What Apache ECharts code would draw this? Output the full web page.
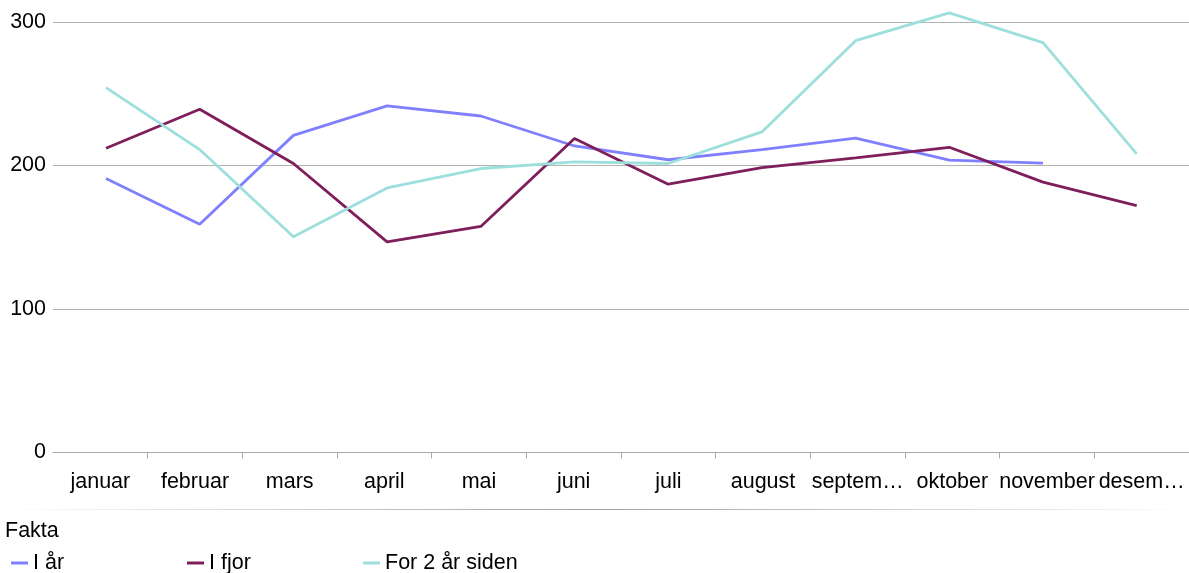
<!DOCTYPE html>
<html>
<head>
<meta charset="utf-8">
<script src="https://cdn.jsdelivr.net/npm/echarts@6/dist/echarts.min.js"></script>
<style>
html,body{margin:0;padding:0;background:#fff;}
#chart{width:1189px;height:573px;}
</style>
</head>
<body>
<div id="chart"></div>
<script>
const months = ['januar','februar','mars','april','mai','juni','juli','august','september','oktober','november','desember'];
const tickLabels = ['januar','februar','mars','april','mai','juni','juli','august','septem…','oktober','november','desem…'];
const seriesNames = ['I år','I fjor','For 2 år siden'];
const iAar   = [191, 159, 221, 241.5, 234.5, 213.6, 204, 211, 219, 203.7, 201.6, null];
const iFjor  = [212, 239.2, 201.4, 146.8, 157.5, 218.8, 187, 198.5, 205.3, 212.7, 188.4, 172.1];
const for2Aar= [254.3, 211.1, 150.3, 184.4, 197.9, 202.5, 201.4, 223.4, 287, 306.3, 285.6, 208.1];
const colors = ['#8080ff', '#7e1e5a', '#9ddfdc'];

const font = 'Liberation Sans, Arial, sans-serif';
const chart = echarts.init(document.getElementById('chart'));
const gridTop = 22, gridBottom = 120.5;
chart.setOption({
  animation: false,
  color: colors,
  title: {
    text: 'Fakta', left: 5, top: 520, padding: 0,
    textStyle: {fontFamily: font, fontSize: 21.5, fontWeight: 'normal', color: '#000'}
  },
  legend: {
    left: 11, top: 551, padding: 0, itemGap: 0,
    icon: 'rect', itemWidth: 17, itemHeight: 3,
    textStyle: {fontFamily: font, fontSize: 21.5, color: '#000', width: 154, lineHeight: 24},
    data: seriesNames
  },
  grid: [
    {left: 53, right: 0, top: gridTop, bottom: gridBottom},
    {left: 59.15, right: 5.45, top: gridTop, bottom: gridBottom}
  ],
  xAxis: [
    {
      type: 'category', gridIndex: 0, data: months, boundaryGap: true,
      axisLine: {lineStyle: {color: '#a8a8a8', width: 1}},
      axisTick: {show: true, length: 6, lineStyle: {color: '#a8a8a8'}, interval: function(i){ return i !== 0; }},
      axisLabel: {interval: 0, margin: 19, fontFamily: font, fontSize: 21.5, color: '#000',
        formatter: function(v, i){ return tickLabels[i]; }}
    },
    {type: 'category', gridIndex: 1, data: months, boundaryGap: true, show: false}
  ],
  yAxis: [
    {
      type: 'value', gridIndex: 0, min: 0, max: 300, interval: 100,
      axisLine: {show: false}, axisTick: {show: false},
      axisLabel: {margin: 7, fontFamily: font, fontSize: 21.5, color: '#000'},
      splitLine: {lineStyle: {color: '#b3b3b3', width: 1}}
    },
    {type: 'value', gridIndex: 1, min: 0, max: 300, show: false, splitLine: {show: false}}
  ],
  graphic: [{
    type: 'line', left: 0, top: 507,
    shape: {x1: 0, y1: 0, x2: 1189, y2: 0},
    style: {
      lineWidth: 1,
      stroke: new echarts.graphic.LinearGradient(0, 0, 1, 0, [
        {offset: 0, color: 'rgba(160,160,160,0)'},
        {offset: 0.5, color: 'rgba(160,160,160,1)'},
        {offset: 1, color: 'rgba(160,160,160,0)'}
      ])
    }
  }],
  series: [
    {name: seriesNames[0], type: 'line', xAxisIndex: 1, yAxisIndex: 1, data: iAar, symbol: 'none', clip: false,
     lineStyle: {width: 2.8, color: colors[0]}, itemStyle: {color: colors[0]}},
    {name: seriesNames[1], type: 'line', xAxisIndex: 1, yAxisIndex: 1, data: iFjor, symbol: 'none', clip: false,
     lineStyle: {width: 2.8, color: colors[1]}, itemStyle: {color: colors[1]}},
    {name: seriesNames[2], type: 'line', xAxisIndex: 1, yAxisIndex: 1, data: for2Aar, symbol: 'none', clip: false,
     lineStyle: {width: 2.8, color: colors[2]}, itemStyle: {color: colors[2]}}
  ]
});
</script>
</body>
</html>
